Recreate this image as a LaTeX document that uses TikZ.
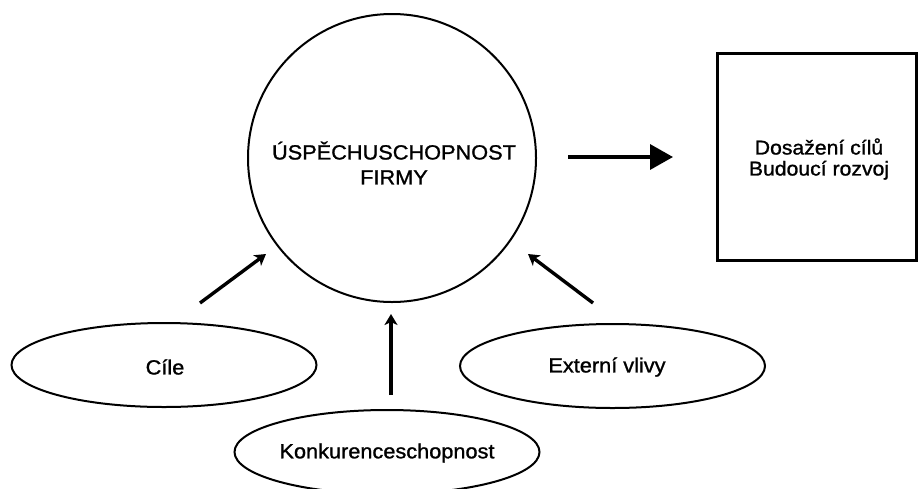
\documentclass[tikz,border=0pt]{standalone}
\usepackage{fontspec}
\setmainfont{Liberation Sans}[FakeStretch=1.06,FakeBold=1.2]
\usetikzlibrary{arrows.meta,shapes.geometric}
\begin{document}
\begin{tikzpicture}[x=1pt,y=-1pt,
  shapeline/.style={draw=black,line width=2pt},
  oval/.style={shapeline,ellipse,minimum width=305pt,minimum height=84pt,inner sep=0pt},
  lbl/.style={font=\fontsize{20.5}{25}\selectfont,align=center,inner sep=0pt},
  smallarrow/.style={line width=3.4pt,-{Stealth[length=11pt,width=13pt,inset=3pt]}},
  bigarrow/.style={line width=3.5pt,-{Triangle[length=23pt,width=25pt]}}]
\useasboundingbox (0,0) rectangle (918,488);
\fill[white] (0,0) rectangle (918,488);
% main circle
\node[shapeline,circle,minimum size=288pt,inner sep=0pt] (main) at (392,158) {};
\node[lbl] (maintext) at (394,163) {ÚSPĚCHUSCHOPNOST\\FIRMY};
% result box
\node[draw=black,line width=2.5pt,minimum width=199pt,minimum height=207pt,inner sep=0pt] (box) at (817,157) {};
\node[lbl,font=\fontsize{20}{21}\selectfont] (boxtext) at (819,159) {Dosažení cílů\\Budoucí rozvoj};
% ellipses
\node[oval] (cile) at (164,365) {};
\node[lbl] (ciletext) at (165,367) {Cíle};
\node[oval] (ext) at (612.5,366) {};
\node[lbl] (exttext) at (607,367) {Externí vlivy};
\node[oval] (konk) at (387,452) {};
\node[lbl] (konktext) at (387,453) {Konkurenceschopnost};
% arrows
\coordinate (a1s) at (200,303); \coordinate (a1e) at (266,254);
\coordinate (a2s) at (593,303); \coordinate (a2e) at (528,254);
\coordinate (a3s) at (391,395); \coordinate (a3e) at (391,314);
\coordinate (a4s) at (568,157); \coordinate (a4e) at (673,157);
\draw[smallarrow] (a1s) -- (a1e);
\draw[smallarrow] (a2s) -- (a2e);
\draw[smallarrow] (a3s) -- (a3e);
\draw[bigarrow] (a4s) -- (a4e);
\end{tikzpicture}
\end{document}
